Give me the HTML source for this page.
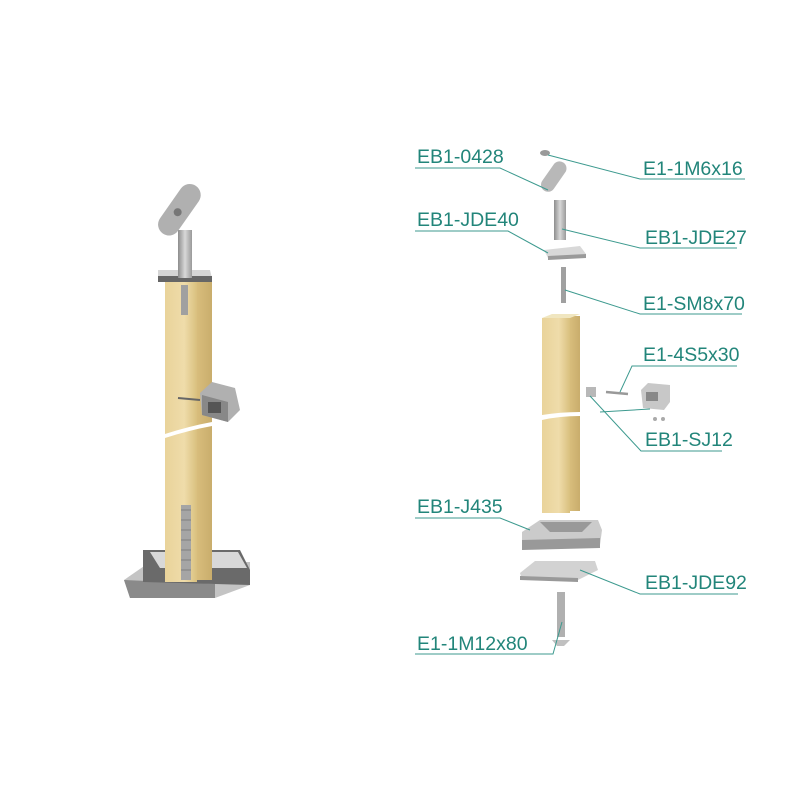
<!DOCTYPE html>
<html><head><style>
html,body{margin:0;padding:0;background:#fff;}
svg{display:block}
text{font-family:"Liberation Sans",sans-serif;font-size:19.5px;fill:#22857a;}
</style></head><body>
<svg width="800" height="800" viewBox="0 0 800 800" xmlns="http://www.w3.org/2000/svg">
<defs>
<linearGradient id="wood" x1="0" x2="1"><stop offset="0" stop-color="#e9d39a"/><stop offset="0.6" stop-color="#efdcaa"/><stop offset="1" stop-color="#d9c07e"/></linearGradient>
<linearGradient id="wood2" x1="0" x2="1"><stop offset="0" stop-color="#d8bd7c"/><stop offset="1" stop-color="#c9ad6c"/></linearGradient>
<linearGradient id="steel" x1="0" x2="1"><stop offset="0" stop-color="#8d8d8d"/><stop offset="0.5" stop-color="#d8d8d8"/><stop offset="1" stop-color="#9a9a9a"/></linearGradient>
</defs>
<!-- LEFT ASSEMBLY -->
<polygon points="124,580 150,562 250,562 250,585 215,598 130,598" fill="#c4c4c4"/>
<polygon points="124,580 215,584 215,598 130,598" fill="#8a8a8a"/>
<polygon points="143,550 240,550 250,570 250,585 215,584 143,582" fill="#6a6a6a"/>
<polygon points="150,552 238,552 247,568 160,568" fill="#d8d8d8"/>
<rect x="165" y="282" width="32" height="300" fill="url(#wood)"/>
<rect x="197" y="278" width="15" height="302" fill="url(#wood2)"/>
<path d="M165,434 Q190,426 212,422 L212,426 Q190,430 165,438Z" fill="#fff"/>
<rect x="181" y="505" width="10" height="75" fill="#a5a5a5"/>
<g stroke="#808080" stroke-width="1"><line x1="181" y1="510" x2="191" y2="510"/><line x1="181" y1="520" x2="191" y2="520"/><line x1="181" y1="530" x2="191" y2="530"/><line x1="181" y1="540" x2="191" y2="540"/><line x1="181" y1="550" x2="191" y2="550"/><line x1="181" y1="560" x2="191" y2="560"/><line x1="181" y1="570" x2="191" y2="570"/></g>
<rect x="181" y="285" width="7" height="30" fill="#a0a0a0"/>
<polygon points="158,270 210,270 212,278 158,278" fill="#d5d5d5"/>
<rect x="158" y="276" width="54" height="6" fill="#666"/>
<rect x="178" y="230" width="14" height="48" fill="url(#steel)"/>
<g transform="rotate(-55 178 210)"><rect x="150" y="200" width="58" height="22" rx="11" fill="#b0b0b0"/><circle cx="176" cy="211" r="4" fill="#777"/></g>
<polygon points="200,393 212,382 235,388 240,410 228,422 202,415" fill="#b0b0b0"/>
<polygon points="202,395 228,402 228,422 202,415" fill="#888"/>
<rect x="208" y="402" width="13" height="11" fill="#555"/>
<line x1="178" y1="398" x2="200" y2="400" stroke="#666" stroke-width="2"/>

<!-- RIGHT EXPLODED -->
<ellipse cx="545" cy="153" rx="5" ry="3" fill="#9a9a9a"/>
<g transform="rotate(-55 554 178)"><rect x="538" y="170" width="34" height="14" rx="7" fill="#b8b8b8"/></g>
<rect x="554" y="200" width="12" height="40" fill="url(#steel)"/>
<polygon points="544,250 580,246 586,254 548,258" fill="#d8d8d8"/>
<polygon points="548,256 586,254 586,258 548,260" fill="#9a9a9a"/>
<rect x="561" y="267" width="5" height="36" fill="#a0a0a0"/>
<rect x="542" y="318" width="28" height="195" fill="url(#wood)"/>
<rect x="570" y="316" width="10" height="195" fill="url(#wood2)"/>
<polygon points="542,318 552,314 580,314 570,318" fill="#f0e6c0"/>
<path d="M542,415 Q560,412 580,412 L580,416 Q560,416 542,420Z" fill="#fff"/>
<rect x="586" y="387" width="10" height="10" fill="#b8b8b8"/>
<line x1="606" y1="392" x2="628" y2="394" stroke="#999" stroke-width="2.5"/>
<polygon points="641,390 648,383 670,385 670,402 664,410 643,408" fill="#c8c8c8"/>
<rect x="646" y="392" width="12" height="9" fill="#888"/>
<circle cx="655" cy="419" r="2" fill="#aaa"/><circle cx="663" cy="419" r="2" fill="#aaa"/>
<polygon points="522,532 540,520 598,520 602,530 600,545 522,545" fill="#cbcbcb"/>
<polygon points="540,522 592,522 582,532 550,532" fill="#999"/>
<polygon points="522,540 600,538 600,548 522,550" fill="#999"/>
<polygon points="520,573 535,561 595,561 598,570 578,580 522,580" fill="#d2d2d2"/>
<polygon points="520,576 578,578 578,582 520,580" fill="#999"/>
<rect x="557" y="592" width="8" height="45" fill="#b0b0b0"/>
<polygon points="552,640 570,640 564,646 557,646" fill="#c0c0c0"/>

<g stroke="#3d9a8f" stroke-width="1" fill="none">
<polyline points="415,168 500,168 548,190"/>
<polyline points="548,155 640,179 745,179"/>
<polyline points="415,231 508,231 548,253"/>
<polyline points="562,229 640,248 737,248"/>
<polyline points="565,290 640,314 742,314"/>
<polyline points="620,392 632,366 737,366"/>
<polyline points="590,396 641,451 722,451"/>
<polyline points="600,412 650,409"/>
<polyline points="415,518 500,518 530,530"/>
<polyline points="580,570 640,594 738,594"/>
<polyline points="415,654 553,654 562,622"/>
</g>
<text x="417" y="163">EB1-0428</text>
<text x="643" y="175">E1-1M6x16</text>
<text x="417" y="226">EB1-JDE40</text>
<text x="645" y="244">EB1-JDE27</text>
<text x="643" y="310">E1-SM8x70</text>
<text x="643" y="361">E1-4S5x30</text>
<text x="645" y="446">EB1-SJ12</text>
<text x="417" y="513">EB1-J435</text>
<text x="645" y="589">EB1-JDE92</text>
<text x="417" y="650">E1-1M12x80</text>
</svg>
</body></html>
